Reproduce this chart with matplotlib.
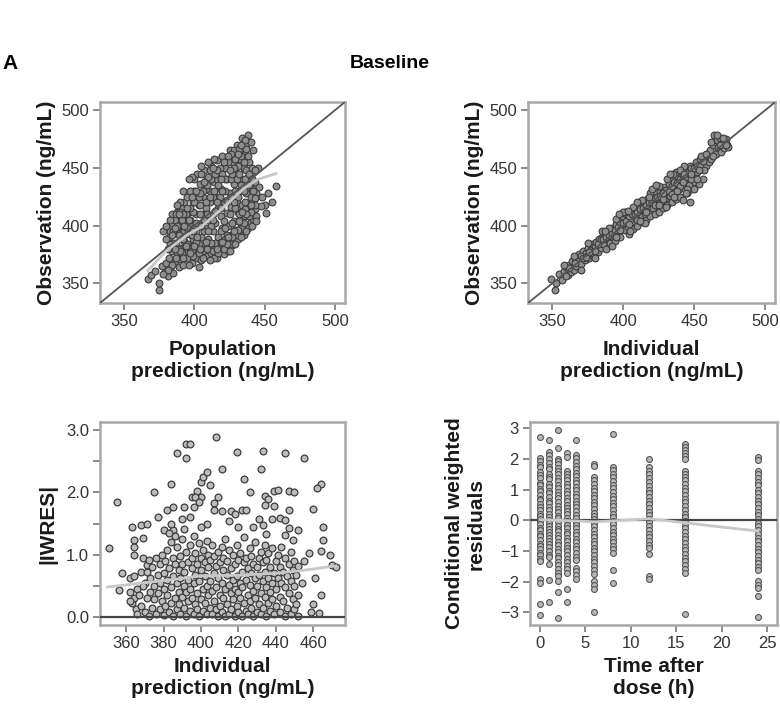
import numpy as np
import matplotlib
matplotlib.use("Agg")
import matplotlib.pyplot as plt
from matplotlib.ticker import MultipleLocator

plt.rcParams['font.family'] = ['Liberation Sans', 'DejaVu Sans']

# panel 1: population prediction vs observation (ng/mL)
pop_pts = [
    (367, 354), (369, 357), (372, 361), (375, 344), (375, 350), (377, 365), (379, 360), (380, 368),
    (381, 356), (382, 372), (383, 363), (384, 378), (385, 359), (386, 369), (387, 385), (388, 376),
    (389, 364), (390, 392), (390, 371), (391, 381), (392, 398), (392, 366), (393, 387), (394, 405),
    (394, 376), (395, 372), (396, 393), (396, 412), (397, 382), (398, 368), (398, 401), (399, 420),
    (399, 388), (400, 377), (400, 430), (401, 410), (401, 395), (402, 372), (402, 445), (403, 384),
    (403, 418), (404, 401), (404, 436), (405, 370), (405, 390), (406, 425), (406, 410), (407, 448),
    (407, 380), (408, 398), (408, 415), (409, 374), (409, 440), (410, 405), (410, 388), (411, 430),
    (411, 420), (412, 376), (412, 452), (413, 395), (413, 410), (414, 383), (414, 438), (415, 402),
    (415, 426), (416, 372), (416, 457), (417, 390), (417, 415), (418, 445), (418, 380), (419, 408),
    (419, 432), (420, 398), (420, 460), (421, 375), (421, 420), (422, 388), (422, 450), (423, 411),
    (423, 440), (424, 378), (424, 400), (425, 428), (425, 465), (426, 392), (426, 416), (427, 455),
    (427, 383), (428, 404), (428, 436), (429, 446), (429, 396), (430, 420), (430, 470), (431, 388),
    (431, 412), (432, 458), (432, 430), (433, 400), (433, 440), (434, 476), (434, 418), (435, 392),
    (435, 450), (436, 462), (436, 408), (437, 428), (437, 470), (438, 398), (438, 442), (439, 415),
    (439, 455), (440, 403), (440, 472), (441, 432), (441, 420), (442, 406), (442, 446), (443, 438),
    (443, 414), (444, 428), (445, 450), (446, 433), (448, 425), (450, 418), (452, 428), (455, 420),
    (458, 434), (447, 417), (451, 411),
    (382, 390), (383, 395), (384, 402), (385, 385), (386, 408), (387, 396), (388, 412), (389, 380),
    (389, 403), (391, 415), (391, 376), (393, 420), (393, 395), (395, 425), (395, 384), (397, 430),
    (397, 405), (398, 378), (399, 412), (400, 440), (400, 398), (401, 386), (402, 428), (403, 364),
    (404, 418), (405, 445), (406, 378), (407, 395), (408, 432), (409, 410), (410, 385), (411, 448),
    (412, 400), (413, 425), (414, 372), (415, 413), (416, 440), (417, 382), (418, 425), (419, 395),
    (420, 445), (421, 404), (422, 430), (423, 392), (424, 455), (425, 384), (426, 440), (427, 402),
    (428, 465), (429, 415), (430, 392), (431, 452), (432, 410), (433, 460), (434, 398), (435, 430),
    (436, 420), (437, 448), (438, 412), (439, 435), (440, 425), (441, 450), (442, 465), (443, 424),
    (444, 408), (438, 478), (436, 474), (432, 466), (429, 458), (426, 462), (414, 458), (410, 455),
    (405, 452), (398, 442), (396, 440), (392, 430), (390, 420), (388, 418), (386, 405), (384, 410),
    (392, 372), (396, 366), (399, 374), (403, 376), (406, 372), (409, 380), (411, 370), (413, 378),
    (415, 385), (417, 376), (419, 386), (421, 380), (423, 384), (425, 378), (427, 390), (429, 384),
    (431, 396), (433, 390), (435, 402), (437, 395), (439, 408), (441, 400), (443, 418), (444, 404),
    (440, 412), (436, 414), (432, 404), (428, 395), (424, 390), (420, 386), (416, 380), (412, 385),
    (408, 386), (404, 380), (400, 382), (397, 376), (394, 382), (390, 378), (387, 372), (384, 366),
    (381, 362), (378, 358),
    (385, 395), (388, 400), (391, 405), (394, 410), (397, 415), (400, 420), (403, 425), (406, 430),
    (409, 435), (412, 440), (415, 445), (418, 450), (421, 455), (424, 460), (427, 445), (430, 440),
    (433, 435), (436, 440), (439, 445), (442, 430), (440, 418), (437, 410), (434, 412), (431, 425),
    (428, 420), (425, 410), (422, 398), (419, 415), (416, 420), (413, 405), (410, 395), (407, 405),
    (404, 410), (401, 402), (398, 392), (395, 398), (392, 388), (389, 392), (386, 380), (383, 384),
    (380, 388), (378, 395), (380, 400), (383, 405), (381, 380), (387, 410), (390, 412), (393, 400),
    (396, 405), (399, 395), (402, 390), (405, 400), (408, 420), (411, 425), (414, 430), (417, 435),
    (420, 430), (423, 422), (426, 425), (429, 430), (432, 445), (435, 455), (438, 460), (441, 440),
    (443, 448), (437, 466), (433, 470), (431, 462), (428, 450), (425, 448), (422, 440), (419, 440),
    (416, 448), (413, 450), (410, 442), (407, 438), (404, 428), (401, 430), (398, 425), (395, 415),
    (392, 410), (389, 410), (386, 398), (384, 392),
]
pop_smooth_x = [367, 380, 395, 405, 420, 435, 445, 458]
pop_smooth_y = [361, 378, 392, 399, 415, 432, 440, 445]

# panel 2: individual prediction vs observation (ng/mL)
ind_pts = [
    (349, 354), (352, 344), (353, 350), (355, 358), (357, 353), (358, 361), (360, 364), (361, 357),
    (362, 366), (363, 360), (364, 369), (365, 362), (366, 372), (367, 365), (368, 370), (369, 375),
    (370, 367), (371, 373), (372, 378), (373, 370), (374, 376), (375, 381), (376, 372), (377, 379),
    (378, 384), (379, 374), (380, 382), (381, 386), (382, 377), (383, 388), (384, 381), (385, 390),
    (386, 384), (387, 392), (388, 380), (389, 394), (390, 388), (391, 385), (392, 398), (393, 390),
    (394, 387), (395, 401), (396, 393), (397, 405), (398, 390), (399, 400), (400, 407), (401, 396),
    (402, 410), (403, 399), (404, 393), (405, 412), (406, 403), (407, 397), (408, 414), (409, 406),
    (410, 400), (411, 417), (412, 408), (413, 403), (414, 420), (415, 410), (416, 405), (417, 423),
    (418, 412), (419, 408), (420, 426), (421, 415), (422, 410), (423, 428), (424, 418), (425, 412),
    (426, 430), (427, 421), (428, 415), (429, 433), (430, 424), (431, 418), (432, 436), (433, 426),
    (434, 420), (435, 440), (436, 429), (437, 423), (438, 443), (439, 432), (440, 425), (441, 446),
    (442, 422), (443, 436), (444, 449), (445, 428), (446, 440), (447, 452), (448, 432), (449, 444),
    (450, 438), (451, 455), (452, 446), (453, 436), (454, 458), (455, 449), (456, 440), (457, 460),
    (458, 452), (459, 462), (460, 455), (461, 465), (462, 458), (463, 470), (464, 478), (465, 462),
    (466, 474), (467, 468), (468, 476), (469, 464), (470, 472), (471, 467), (472, 475), (473, 470),
    (474, 468), (466, 478), (462, 472),
    (378, 376), (380, 378), (382, 384), (384, 388), (386, 388), (388, 390), (390, 392), (392, 394),
    (394, 396), (396, 399), (398, 403), (400, 402), (402, 404), (404, 408), (406, 410), (408, 409),
    (410, 412), (412, 414), (414, 415), (416, 418), (418, 420), (420, 420), (422, 424), (424, 425),
    (426, 426), (428, 430), (430, 431), (432, 430), (434, 434), (436, 438), (438, 437), (440, 440),
    (442, 444), (444, 442), (446, 446), (448, 450), (450, 450), (452, 452), (454, 452), (456, 456),
    (370, 374), (372, 372), (374, 373), (376, 377), (366, 368), (362, 363), (398, 396), (404, 401),
    (410, 405), (416, 412), (422, 418), (428, 423), (434, 427), (440, 434), (446, 435), (450, 432),
    (436, 425), (395, 406), (401, 412), (407, 416), (413, 422), (419, 428), (425, 434), (431, 440),
    (437, 446), (443, 452),
    (385, 395), (390, 398), (395, 390), (400, 412), (405, 395), (410, 420), (415, 402), (420, 432),
    (425, 418), (430, 416), (435, 445), (440, 448), (445, 432), (448, 440), (452, 440), (455, 460),
    (457, 448), (447, 420), (444, 428), (442, 438), (380, 372), (375, 385), (370, 362), (365, 374),
    (360, 356), (358, 366), (392, 382), (387, 395), (397, 410), (403, 413), (412, 404), (418, 425),
    (423, 435), (428, 428), (433, 445), (438, 430), (443, 445), (448, 445), (453, 448), (458, 462),
    (463, 460), (468, 470), (470, 476), (472, 470),
]

# panel 3: individual prediction vs |IWRES|
iwres_pts = [
    (351, 1.10), (355, 1.85), (358, 0.70), (356, 0.43), (375, 2.00), (384, 2.13), (387, 2.64),
    (392, 2.78), (394, 2.78), (392, 2.55), (408, 2.89), (411, 2.37), (419, 2.65), (423, 2.22),
    (433, 2.67), (432, 2.37), (445, 2.63), (455, 2.56), (464, 2.14), (462, 2.07), (460, 1.74),
    (461, 0.62), (464, 0.35), (469, 0.99), (470, 0.83), (472, 0.80), (465, 1.45), (465, 1.23),
    (464, 1.06), (458, 1.02), (455, 0.90), (454, 0.54), (460, 0.21), (459, 0.08), (463, 0.06),
    (452, 1.39),
    (363, 1.45), (368, 1.47), (371, 1.50), (364, 1.24), (369, 1.27), (364, 1.13), (364, 0.99),
    (369, 0.94), (371, 0.84), (377, 1.61), (382, 1.71), (385, 1.77), (391, 1.77), (390, 1.58),
    (394, 1.61), (396, 1.77), (395, 1.93), (398, 2.03), (400, 2.17), (401, 2.25), (403, 2.33),
    (405, 2.12), (400, 1.93), (397, 1.93), (399, 1.85), (407, 1.83), (407, 1.72), (409, 1.93),
    (403, 1.49), (400, 1.44), (391, 1.41), (385, 1.39), (380, 1.39), (384, 1.50), (411, 1.70),
    (416, 1.70), (418, 1.65), (415, 1.54), (420, 1.45), (422, 1.72), (424, 1.72), (426, 2.00),
    (431, 1.58), (434, 1.94), (436, 1.90), (434, 1.80), (439, 1.78), (439, 2.03), (441, 2.04),
    (447, 2.02), (450, 2.00), (447, 1.72), (438, 1.58), (442, 1.59), (445, 1.55), (445, 1.32),
    (447, 1.43), (449, 1.24), (433, 1.47), (428, 1.44), (435, 1.33),
    (362, 0.62), (362, 0.40), (363, 0.22), (364, 0.30), (364, 0.65), (365, 0.12), (366, 0.45),
    (366, 0.05), (367, 0.35), (368, 0.72), (368, 0.18), (362, 0.25),
    (370, 0.55), (370, 0.08), (371, 0.30), (372, 0.92), (372, 0.02), (373, 0.62), (373, 0.40),
    (374, 0.15), (374, 0.80), (375, 0.50), (375, 0.28), (376, 0.95), (376, 0.05), (377, 0.68),
    (377, 0.38), (378, 0.12), (378, 0.85), (378, 0.55), (371, 0.72), (369, 0.50),
    (379, 0.25), (379, 1.00), (380, 0.45), (380, 0.70), (380, 0.03), (381, 0.90), (381, 0.18),
    (382, 0.60), (382, 0.35), (382, 1.08), (383, 0.08), (383, 0.78), (384, 0.48), (384, 0.22),
    (384, 1.20), (385, 0.95), (385, 0.65), (385, 0.02), (386, 0.30), (386, 0.85), (387, 0.12),
    (387, 0.55), (387, 1.12), (388, 0.40), (388, 0.75), (388, 0.20), (386, 1.30), (383, 1.35),
    (389, 0.05), (389, 0.62), (389, 0.98), (390, 0.32), (390, 0.85), (390, 1.25), (391, 0.15),
    (391, 0.50), (391, 0.72), (392, 1.05), (392, 0.02), (392, 0.40), (393, 0.88), (393, 0.25),
    (393, 0.60), (394, 1.15), (394, 0.10), (394, 0.45), (395, 0.78), (395, 0.30), (395, 0.95),
    (396, 0.05), (396, 0.55), (396, 1.30), (397, 0.20), (397, 0.68), (397, 1.02), (398, 0.38),
    (398, 0.85), (398, 0.12),
    (399, 0.58), (399, 1.18), (399, 0.02), (400, 0.28), (400, 0.75), (400, 0.95), (401, 0.45),
    (401, 0.10), (401, 1.08), (402, 0.65), (402, 0.22), (402, 0.88), (403, 0.04), (403, 0.50),
    (403, 1.22), (404, 0.35), (404, 0.80), (404, 1.00), (405, 0.15), (405, 0.58), (405, 0.92),
    (406, 0.42), (406, 0.05), (406, 1.15), (407, 0.70), (407, 0.25), (407, 0.98), (408, 0.48),
    (408, 0.12), (408, 0.82),
    (409, 0.02), (409, 0.62), (409, 1.05), (410, 0.35), (410, 0.88), (410, 0.18), (411, 0.55),
    (411, 1.12), (411, 0.08), (412, 0.75), (412, 0.30), (412, 0.95), (413, 0.45), (413, 0.02),
    (413, 1.25), (414, 0.68), (414, 0.20), (414, 0.90), (415, 0.05), (415, 0.52), (415, 1.08),
    (416, 0.38), (416, 0.78), (416, 0.12), (417, 0.60), (417, 1.00), (417, 0.28), (418, 0.85),
    (418, 0.45), (418, 0.02),
    (419, 0.65), (419, 0.18), (419, 1.15), (420, 0.40), (420, 0.92), (420, 0.08), (421, 0.55),
    (421, 0.30), (421, 1.02), (422, 0.72), (422, 0.02), (422, 0.48), (423, 0.88), (423, 0.22),
    (423, 1.28), (424, 0.60), (424, 0.10), (424, 0.95), (425, 0.35), (425, 0.78), (425, 0.05),
    (426, 0.52), (426, 1.10), (426, 0.25), (427, 0.70), (427, 0.15), (427, 0.98), (428, 0.42),
    (428, 0.85), (428, 0.02),
    (429, 0.62), (429, 1.20), (429, 0.30), (430, 0.08), (430, 0.80), (430, 0.50), (431, 0.95),
    (431, 0.20), (431, 0.68), (432, 0.38), (432, 1.05), (432, 0.05), (433, 0.58), (433, 0.88),
    (433, 0.15), (434, 0.72), (434, 0.32), (434, 1.15), (435, 0.02), (435, 0.48), (435, 0.92),
    (436, 0.62), (436, 0.22), (436, 1.02), (437, 0.40), (437, 0.80), (437, 0.10), (438, 0.55),
    (438, 1.10), (438, 0.28),
    (439, 0.70), (439, 0.05), (440, 0.45), (440, 0.90), (440, 0.18), (441, 0.62), (441, 1.00),
    (442, 0.32), (442, 0.80), (442, 0.08), (443, 0.55), (443, 1.12), (444, 0.25), (444, 0.72),
    (445, 0.02), (445, 0.95), (445, 0.48), (446, 0.65), (446, 0.15), (447, 0.85), (447, 0.38),
    (448, 0.05), (448, 0.58), (448, 1.05), (449, 0.28), (449, 0.75), (450, 0.12), (450, 0.50),
    (450, 0.90), (451, 0.20), (451, 0.68), (452, 0.35), (452, 0.02), (452, 0.82),
]
iwres_smooth_x = [350, 370, 385, 400, 420, 440, 455, 472]
iwres_smooth_y = [0.48, 0.55, 0.60, 0.66, 0.67, 0.70, 0.75, 0.82]

# panel 4: CWRES by nominal time after dose (h)
cwres_by_time = {
    0: [2.72, 2.04, 1.93, 1.81, 1.74, 1.58, 1.49, 1.37, 1.22, 1.15, 1.03, 0.96, 0.84, 0.71, 0.66,
        0.52, 0.43, 0.35, 0.21, 0.14, 0.05, -0.03, -0.12, -0.26, -0.31, -0.45, -0.52, -0.63,
        -0.77, -0.84, -0.95, -1.06, -1.14, -1.25, -1.31, -1.92, -2.03, -2.72, -3.08],
    1: [2.62, 2.21, 2.12, 2.0, 1.88, 1.75, 1.66, 1.52, 1.41, 1.33, 1.19, 1.08, 0.97, 0.88, 0.76,
        0.63, 0.55, 0.42, 0.33, 0.22, 0.11, 0.02, -0.09, -0.18, -0.29, -0.38, -0.47, -0.58,
        -0.69, -0.77, -0.88, -1.0, -1.12, -1.21, -1.42, -1.95, -2.65],
    2: [2.95, 2.35, 2.01, 1.93, 1.82, 1.7, 1.62, 1.5, 1.38, 1.27, 1.16, 1.05, 0.93, 0.81, 0.72,
        0.6, 0.48, 0.37, 0.26, 0.15, 0.06, -0.05, -0.17, -0.27, -0.36, -0.48, -0.59, -0.7,
        -0.81, -0.92, -1.03, -1.15, -1.24, -1.36, -1.47, -1.58, -1.7, -1.82, -1.98, -2.32, -3.18],
    3: [2.18, 2.05, 1.62, 1.5, 1.41, 1.3, 1.18, 1.07, 0.96, 0.85, 0.73, 0.64, 0.51, 0.4, 0.31,
        0.19, 0.08, -0.03, -0.14, -0.25, -0.37, -0.46, -0.57, -0.69, -0.8, -0.91, -1.01, -1.13,
        -1.25, -1.36, -1.48, -1.6, -1.71, -2.25, -2.66],
    4: [2.6, 2.12, 2.02, 1.9, 1.78, 1.66, 1.55, 1.43, 1.31, 1.2, 1.1, 0.98, 0.87, 0.75, 0.64,
        0.53, 0.42, 0.3, 0.18, 0.07, -0.04, -0.15, -0.26, -0.38, -0.49, -0.6, -0.71, -0.83,
        -0.95, -1.06, -1.18, -1.3, -1.55, -1.66, -1.78, -1.9],
    6: [1.82, 1.78, 1.4, 1.3, 1.18, 1.06, 0.95, 0.83, 0.72, 0.6, 0.49, 0.37, 0.25, 0.14, 0.03,
        -0.08, -0.2, -0.31, -0.43, -0.54, -0.66, -0.78, -0.89, -1.01, -1.13, -1.25, -1.37,
        -1.5, -1.61, -1.75, -1.98, -2.1, -2.25, -3.0],
    8: [2.8, 1.75, 1.65, 1.52, 1.4, 1.28, 1.16, 1.04, 0.92, 0.8, 0.68, 0.56, 0.45, 0.33, 0.21,
        0.1, -0.02, -0.13, -0.25, -0.37, -0.48, -0.6, -0.72, -0.84, -0.95, -1.05, -1.62, -2.05],
    12: [2.0, 1.72, 1.6, 1.5, 1.38, 1.25, 1.12, 1.0, 0.88, 0.76, 0.64, 0.52, 0.4, 0.28, 0.16,
         0.05, -0.07, -0.19, -0.31, -0.43, -0.55, -0.67, -0.8, -0.9, -1.1, -1.8, -1.9],
    16: [2.48, 2.38, 2.28, 2.18, 2.08, 2.0, 1.6, 1.5, 1.42, 1.3, 1.18, 1.06, 0.94, 0.82, 0.7,
         0.58, 0.46, 0.34, 0.22, 0.1, -0.02, -0.14, -0.26, -0.38, -0.5, -0.62, -0.74, -0.86,
         -0.98, -1.1, -1.22, -1.34, -1.46, -1.58, -1.7, -3.05],
    24: [2.05, 1.95, 1.6, 1.5, 1.38, 1.26, 1.14, 1.0, 0.88, 0.76, 0.64, 0.52, 0.4, 0.28, 0.16,
         0.04, -0.08, -0.2, -0.32, -0.44, -0.56, -0.68, -0.8, -0.92, -1.04, -1.16, -1.28, -1.4,
         -1.52, -1.62, -1.98, -2.1, -2.22, -2.45, -3.15],
}
cwres_smooth_x = [0, 2, 4, 6, 8, 12, 16, 20, 24]
cwres_smooth_y = [0.02, 0.0, -0.02, -0.05, -0.02, 0.05, -0.08, -0.22, -0.35]

box_col = '#a8a8a8'
pt_face = '#8e8e8e'
pt_edge = '#3c3c3c'
smooth_col = '#c8c8c8'
label_kw = dict(fontsize=15, fontweight='bold', color='#1a1a1a')


def style(ax):
    for s in ax.spines.values():
        s.set_color(box_col)
        s.set_linewidth(1.8)
    ax.tick_params(direction='out', length=5, width=1.2, color='#777777',
                   labelsize=12, labelcolor='#333333', pad=3)
    ax.tick_params(which='minor', direction='out', length=5, width=1.2, color='#777777')


fig = plt.figure(figsize=(7.8, 7.08), dpi=100)

fig.text(0.003, 0.911, 'A', fontsize=15, fontweight='bold', va='center', ha='left')
fig.text(0.5, 0.911, 'Baseline', fontsize=14, fontweight='bold', va='center', ha='center')

# top left
ax1 = fig.add_axes([0.1282, 0.572, 0.3141, 0.284])
px, py = np.array(pop_pts).T
ax1.scatter(px, py, s=24, facecolor=pt_face, edgecolor=pt_edge, linewidth=0.8, zorder=2)
ax1.axline((400, 400), slope=1, color='#555555', lw=1.3, zorder=3)
ax1.plot(pop_smooth_x, pop_smooth_y, color=smooth_col, lw=2, zorder=4)
ax1.set_xlim(333, 507)
ax1.set_ylim(333, 507)
ax1.set_xticks([350, 400, 450, 500])
ax1.set_yticks([350, 400, 450, 500])
ax1.set_xlabel('Population\nprediction (ng/mL)', labelpad=8, **label_kw)
ax1.set_ylabel('Observation (ng/mL)', labelpad=4, **label_kw)
style(ax1)

# top right
ax2 = fig.add_axes([0.677, 0.572, 0.317, 0.284])
ix, iy = np.array(ind_pts).T
ax2.scatter(ix, iy, s=24, facecolor=pt_face, edgecolor=pt_edge, linewidth=0.8, zorder=2)
ax2.axline((400, 400), slope=1, color='#555555', lw=1.3, zorder=3)
ax2.set_xlim(333, 507)
ax2.set_ylim(333, 507)
ax2.set_xticks([350, 400, 450, 500])
ax2.set_yticks([350, 400, 450, 500])
ax2.set_xlabel('Individual\nprediction (ng/mL)', labelpad=8, **label_kw)
ax2.set_ylabel('Observation (ng/mL)', labelpad=4, **label_kw)
style(ax2)

# bottom left
ax3 = fig.add_axes([0.1282, 0.1172, 0.3141, 0.2867])
wx, wy = np.array(iwres_pts).T
ax3.scatter(wx, wy, s=24, facecolor='#bcbcbc', edgecolor=pt_edge, linewidth=0.9, zorder=2)
ax3.axhline(0, color='#444444', lw=1.6, zorder=3)
ax3.plot(iwres_smooth_x, iwres_smooth_y, color=smooth_col, lw=2, zorder=4)
ax3.set_xlim(346, 477)
ax3.set_ylim(-0.13, 3.13)
ax3.set_xticks([360, 380, 400, 420, 440, 460])
ax3.set_yticks([0, 1, 2, 3])
ax3.set_yticklabels(['0.0', '1.0', '2.0', '3.0'])
ax3.yaxis.set_minor_locator(MultipleLocator(0.5))
ax3.set_xlabel('Individual\nprediction (ng/mL)', labelpad=4, **label_kw)
ax3.set_ylabel('|IWRES|', labelpad=6, **label_kw)
style(ax3)

# bottom right
ax4 = fig.add_axes([0.6795, 0.1172, 0.3167, 0.2867])
for t, vals in cwres_by_time.items():
    ax4.scatter(np.full(len(vals), t), vals, s=18, facecolor='#b8b8b8', edgecolor='#555555',
                linewidth=0.8, zorder=2)
ax4.axhline(0, color='#444444', lw=1.6, zorder=3)
ax4.plot(cwres_smooth_x, cwres_smooth_y, color=smooth_col, lw=2, zorder=4)
ax4.set_xlim(-1.1, 26.1)
ax4.set_ylim(-3.41, 3.2)
ax4.set_xticks([0, 5, 10, 15, 20, 25])
ax4.set_yticks([-3, -2, -1, 0, 1, 2, 3])
ax4.set_yticklabels(['\u22123', '\u22122', '\u22121', '0', '1', '2', '3'])
ax4.set_xlabel('Time after\ndose (h)', labelpad=4, **label_kw)
ax4.set_ylabel('Conditional weighted\nresiduals', labelpad=10, **label_kw)
style(ax4)

fig.savefig('out.png', dpi=100)
